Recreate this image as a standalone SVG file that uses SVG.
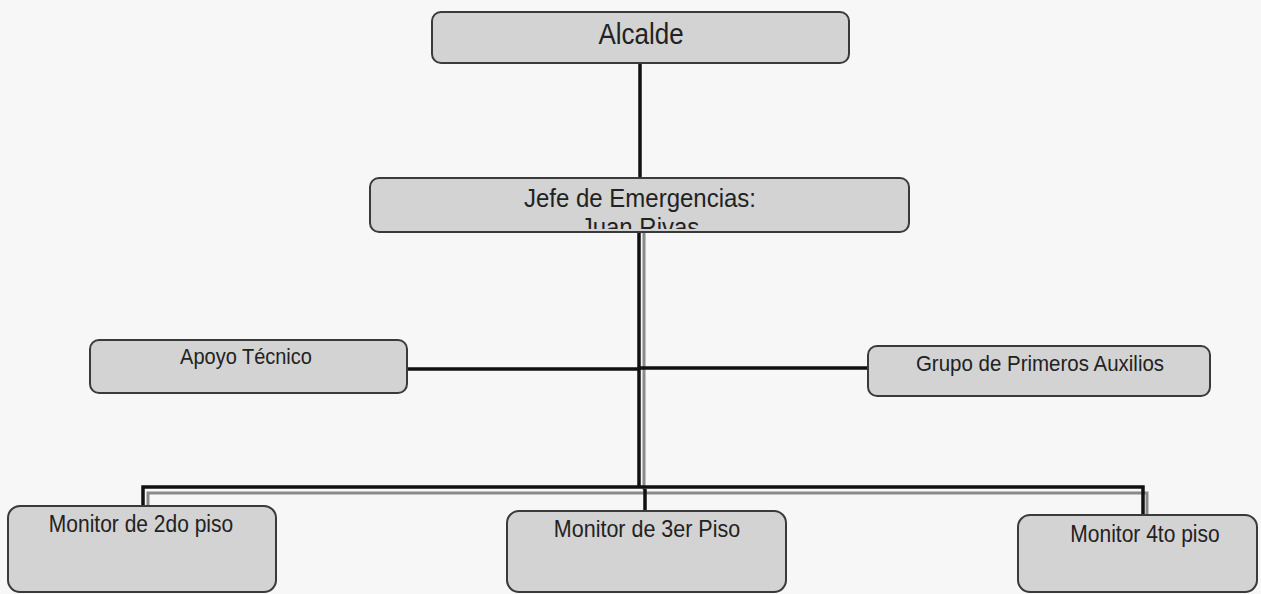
<svg xmlns="http://www.w3.org/2000/svg" width="1261" height="594" viewBox="0 0 1261 594">
<defs>
<style>
.box{fill:#d3d3d3;stroke:#3a3a3a;stroke-width:2}
.t{font-family:"Liberation Sans",Arial,sans-serif;fill:#222;text-anchor:middle}
.ln{stroke:#111;stroke-width:3.5;fill:none}
.sh{stroke:#8a8a8a;stroke-width:3;fill:none}
</style>
<clipPath id="jc"><rect x="370" y="178" width="539" height="51"/></clipPath>
</defs>
<rect width="1261" height="594" fill="#f7f7f7"/>
<g id="connectors">
<line class="ln" x1="640" y1="63" x2="640" y2="180"/>
<line class="sh" x1="644" y1="233" x2="644" y2="490"/>
<line class="ln" x1="639" y1="233" x2="639" y2="487"/>
<line class="ln" x1="407" y1="369" x2="639" y2="369"/>
<line class="ln" x1="639" y1="368" x2="868" y2="368"/>
<polyline class="sh" points="148,507 148,493 1147,493 1147,515"/>
<polyline class="ln" points="143,507 143,487 1143,487 1143,515"/>
<line class="ln" x1="645" y1="489" x2="645" y2="511"/>
</g>
<g id="alcalde">
<rect class="box" x="432" y="12" width="417" height="51" rx="9"/>
<text class="t" transform="translate(641,44) scale(1,1.12)" font-size="26">Alcalde</text>
</g>
<g id="jefe">
<rect class="box" x="370" y="178" width="539" height="54" rx="9"/>
<g clip-path="url(#jc)">
<text class="t" transform="translate(640,207) scale(1,1.1)" font-size="24">Jefe de Emergencias:</text>
<text class="t" transform="translate(640,236) scale(1,1.1)" font-size="24">Juan  Rivas</text>
</g>
</g>
<g id="apoyo">
<rect class="box" x="90" y="340" width="317" height="53" rx="9"/>
<text class="t" transform="translate(246,364) scale(1,1.12)" font-size="20">Apoyo Técnico</text>
</g>
<g id="grupo">
<rect class="box" x="868" y="346" width="342" height="50" rx="9"/>
<text class="t" transform="translate(1040,371) scale(1,1.1)" font-size="20.5">Grupo de Primeros Auxilios</text>
</g>
<g id="monitor2">
<rect class="box" x="8" y="506" width="268" height="86" rx="12"/>
<text class="t" transform="translate(141,532) scale(1,1.1)" font-size="21">Monitor de 2do piso</text>
</g>
<g id="monitor3">
<rect class="box" x="507" y="511" width="279" height="81" rx="12"/>
<text class="t" transform="translate(647,537) scale(1,1.1)" font-size="21.5">Monitor de 3er Piso</text>
</g>
<g id="monitor4">
<rect class="box" x="1018" y="515" width="239" height="77" rx="12"/>
<text class="t" transform="translate(1145,542) scale(1,1.1)" font-size="21">Monitor 4to piso</text>
</g>
</svg>
